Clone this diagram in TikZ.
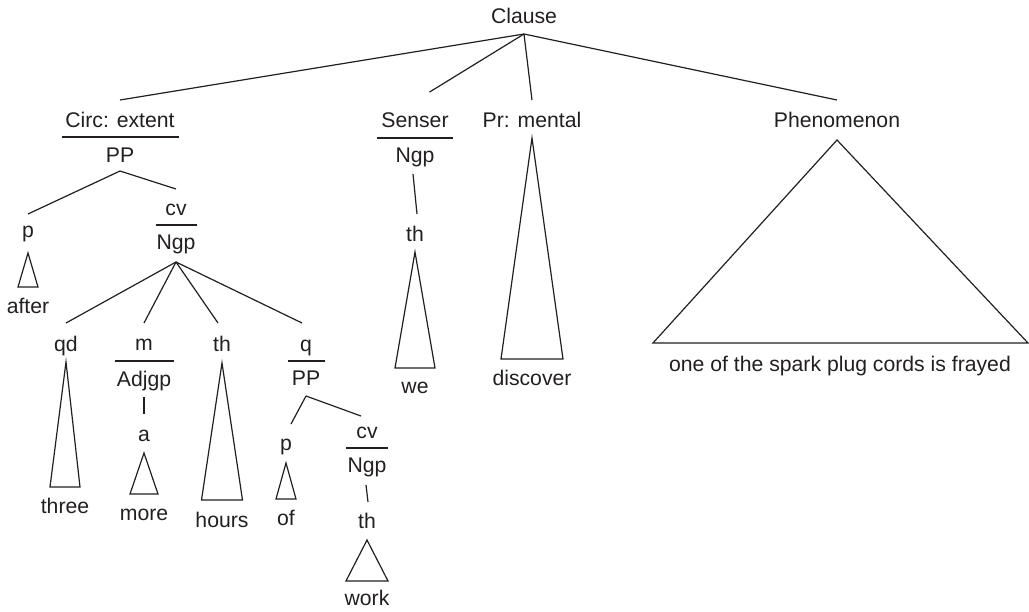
\documentclass[tikz,border=0pt]{standalone}
\usepackage{fontspec}
\setmainfont{Liberation Sans}
\definecolor{ink}{RGB}{35,31,32}
\begin{document}
\begin{tikzpicture}[x=0.5pt,y=-0.5pt,
  lab/.style={anchor=base, inner sep=0pt, font=\fontsize{10.6}{12.7}\selectfont, text=ink},
  edge/.style={line width=0.6pt, draw=ink, line join=miter},
]
\useasboundingbox (0,0) rectangle (1029,611);
% labels
\node[lab] (clause) at (524,23) {Clause};
\node[lab] (circ) at (120,127) {Circ: extent};
\node[lab] (circpp) at (120,162) {PP};
\node[lab] (senser) at (415,127) {Senser};
\node[lab] (senserngp) at (415,162) {Ngp};
\node[lab] (prm) at (532,127) {Pr: mental};
\node[lab] (phen) at (837,127) {Phenomenon};
\node[lab] (pone) at (28,237) {p};
\node[lab] (cvone) at (176,215) {cv};
\node[lab] (ngpone) at (176,249) {Ngp};
\node[lab] (after) at (28,313) {after};
\node[lab] (thone) at (415,241) {th};
\node[lab] (we) at (415,393) {we};
\node[lab] (discover) at (532,385) {discover};
\node[lab] (phrase) at (840,371) {one of the spark plug cords is frayed};
\node[lab] (qd) at (66,351) {qd};
\node[lab] (m) at (144,350) {m};
\node[lab] (adjgp) at (144,386) {Adjgp};
\node[lab] (thtwo) at (222,351) {th};
\node[lab] (q) at (306,351) {q};
\node[lab] (ppq) at (306,385) {PP};
\node[lab] (three) at (65,513) {three};
\node[lab] (a) at (144,441) {a};
\node[lab] (more) at (144,520) {more};
\node[lab] (hours) at (222,527) {hours};
\node[lab] (ptwo) at (286,450) {p};
\node[lab] (cvtwo) at (367,438) {cv};
\node[lab] (ngptwo) at (367,472) {Ngp};
\node[lab] (of) at (286,525) {of};
\node[lab] (ththree) at (367,528) {th};
\node[lab] (work) at (367,605) {work};
% rules
\draw[edge] ([xshift=-29.25pt,yshift=-5pt]circ.base) -- ([xshift=29.25pt,yshift=-5pt]circ.base);
\draw[edge] ([xshift=-19pt,yshift=-5.5pt]senser.base) -- ([xshift=19pt,yshift=-5.5pt]senser.base);
\draw[edge] ([xshift=-10.25pt,yshift=-5pt]cvone.base) -- ([xshift=10.25pt,yshift=-5pt]cvone.base);
\draw[edge] ([xshift=-14.75pt,yshift=-5.5pt]m.base) -- ([xshift=14.75pt,yshift=-5.5pt]m.base);
\draw[edge] ([xshift=-9.25pt,yshift=-5pt]q.base) -- ([xshift=9.25pt,yshift=-5pt]q.base);
\draw[edge] ([xshift=-10.5pt,yshift=-5pt]cvtwo.base) -- ([xshift=10.5pt,yshift=-5pt]cvtwo.base);
% branches
\draw[edge] ([yshift=-5.5pt]clause.base) -- ([yshift=13.5pt]circ.base);
\draw[edge,shorten >=8.5pt] ([yshift=-5.5pt]clause.base) -- ([yshift=13pt]senser.base);
\draw[edge] ([yshift=-5.5pt]clause.base) -- ([yshift=13.5pt]prm.base);
\draw[edge] ([yshift=-5.5pt]clause.base) -- ([yshift=13.5pt]phen.base);
\draw[edge] ([yshift=-4.5pt]circpp.base) -- ([yshift=11.5pt]pone.base);
\draw[edge] ([yshift=-4.5pt]circpp.base) -- ([yshift=13pt]cvone.base);
\draw[edge] ([yshift=-6.5pt]ngpone.base) -- ([yshift=14pt]qd.base);
\draw[edge] ([yshift=-6.5pt]ngpone.base) -- ([yshift=13.5pt]m.base);
\draw[edge] ([yshift=-6.5pt]ngpone.base) -- ([xshift=-2pt,yshift=14pt]thtwo.base);
\draw[edge] ([yshift=-6.5pt]ngpone.base) -- ([xshift=-2pt,yshift=14pt]q.base);
\draw[edge] ([yshift=-5.5pt]adjgp.base) -- ([yshift=13.5pt]a.base);
\draw[edge] ([yshift=-5.5pt]ppq.base) -- ([xshift=2.5pt,yshift=13pt]ptwo.base);
\draw[edge] ([yshift=-5.5pt]ppq.base) -- ([xshift=-3pt,yshift=11pt]cvtwo.base);
\draw[edge] ([xshift=-0.5pt,yshift=-6.5pt]ngptwo.base) -- ([xshift=0.5pt,yshift=13pt]ththree.base);
\draw[edge] ([xshift=-1pt,yshift=-6pt]senserngp.base) -- ([xshift=1pt,yshift=13.5pt]thone.base);
% triangles
\draw[edge] ([yshift=-8pt]pone.base) -- ([xshift=5pt,yshift=13pt]after.base) -- ([xshift=-5pt,yshift=13pt]after.base) -- cycle;
\draw[edge] ([yshift=-5.5pt]qd.base) -- ([xshift=7.5pt,yshift=13pt]three.base) -- ([xshift=-7.5pt,yshift=13pt]three.base) -- cycle;
\draw[edge] ([yshift=-6pt]a.base) -- ([xshift=7pt,yshift=13pt]more.base) -- ([xshift=-7pt,yshift=13pt]more.base) -- cycle;
\draw[edge] ([yshift=-6pt]thtwo.base) -- ([xshift=10.25pt,yshift=13.5pt]hours.base) -- ([xshift=-10.25pt,yshift=13.5pt]hours.base) -- cycle;
\draw[edge] ([yshift=-6.5pt]ptwo.base) -- ([xshift=5pt,yshift=13pt]of.base) -- ([xshift=-5pt,yshift=13pt]of.base) -- cycle;
\draw[edge] ([yshift=-6pt]ththree.base) -- ([xshift=10.5pt,yshift=12pt]work.base) -- ([xshift=-10.5pt,yshift=12pt]work.base) -- cycle;
\draw[edge] ([yshift=-5.5pt]thone.base) -- ([xshift=10pt,yshift=12.5pt]we.base) -- ([xshift=-10pt,yshift=12.5pt]we.base) -- cycle;
\draw[edge] ([yshift=-5.5pt]prm.base) -- ([xshift=15.5pt,yshift=13pt]discover.base) -- ([xshift=-15.5pt,yshift=13pt]discover.base) -- cycle;
\draw[edge] ([yshift=-6.5pt]phen.base) -- ([xshift=94pt,yshift=14pt]phrase.base) -- ([xshift=-93.5pt,yshift=14pt]phrase.base) -- cycle;
\end{tikzpicture}
\end{document}
